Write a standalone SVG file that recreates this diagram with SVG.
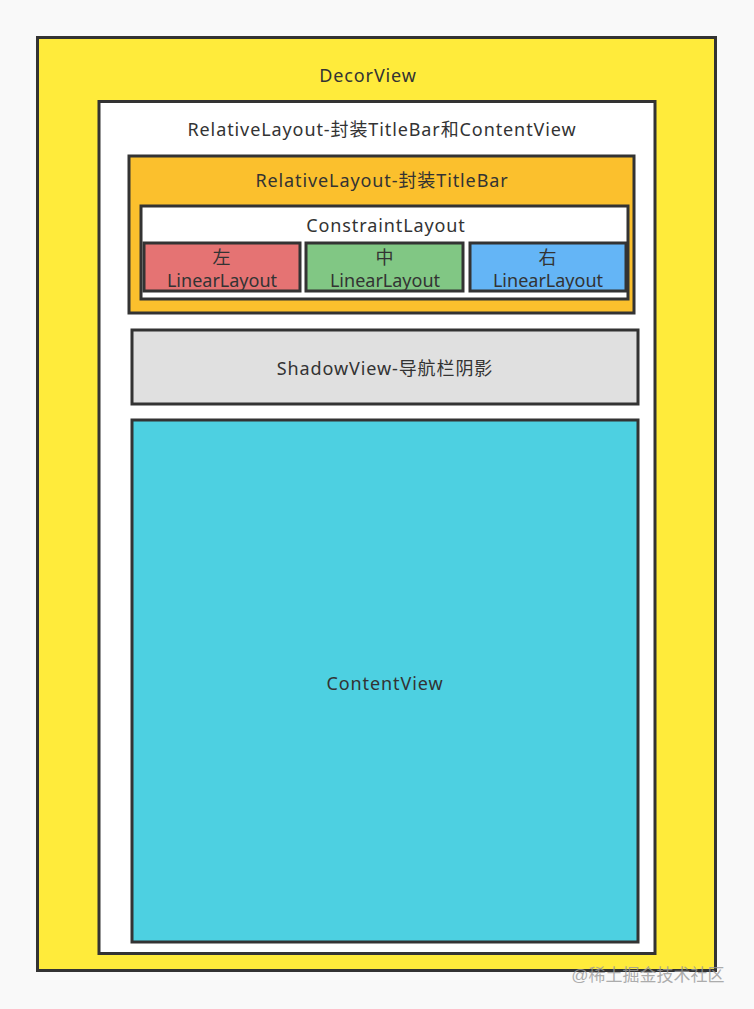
<svg xmlns="http://www.w3.org/2000/svg" width="754" height="1009" viewBox="0 0 754 1009">
<style>
.b{stroke:#333;stroke-width:3}
.t{font-family:"Noto Sans","Noto Sans CJK SC",sans-serif;font-size:18px;letter-spacing:0.9px;fill:#333;text-anchor:middle}
.s{letter-spacing:0}
</style>
<rect width="754" height="1009" fill="#f9f9f9"/>
<g id="decor"><rect class="b" x="37.5" y="37.5" width="678" height="933" fill="#ffeb3b"/><text class="t" x="368" y="82">DecorView</text></g>
<g id="relative"><rect class="b" x="99" y="101.5" width="556" height="852" fill="#fff"/><text class="t" x="382" y="136">RelativeLayout-封装TitleBar和ContentView</text></g>
<g id="titlebar"><rect class="b" x="129" y="156" width="505" height="157" fill="#fbc02d"/><text class="t" x="382" y="187">RelativeLayout-封装TitleBar</text></g>
<g id="constraint"><rect class="b" x="141" y="206" width="487" height="93" fill="#fff"/><text class="t" x="386" y="232">ConstraintLayout</text></g>
<g id="left"><rect class="b" x="144" y="243" width="156" height="48" fill="#e57373"/><text class="t" x="222" y="264">左</text><text class="t s" x="222" y="287">LinearLayout</text></g>
<g id="mid"><rect class="b" x="306" y="243" width="157" height="48" fill="#81c784"/><text class="t" x="385" y="264">中</text><text class="t s" x="385" y="287">LinearLayout</text></g>
<g id="right"><rect class="b" x="470" y="243" width="156" height="48" fill="#64b5f6"/><text class="t" x="548" y="264">右</text><text class="t s" x="548" y="287">LinearLayout</text></g>
<g id="shadow"><rect class="b" x="132" y="330" width="506" height="74" fill="#e0e0e0"/><text class="t" x="385" y="375">ShadowView-导航栏阴影</text></g>
<g id="content"><rect class="b" x="132" y="420" width="506" height="522" fill="#4dd0e1"/><text class="t" x="385" y="690">ContentView</text></g>
<g id="connectors"/>
<text x="648" y="981" style="font-family:'Liberation Sans','Noto Sans CJK SC',sans-serif;font-size:17px;fill:#999;text-anchor:middle;opacity:0.8">@稀土掘金技术社区</text>
</svg>
